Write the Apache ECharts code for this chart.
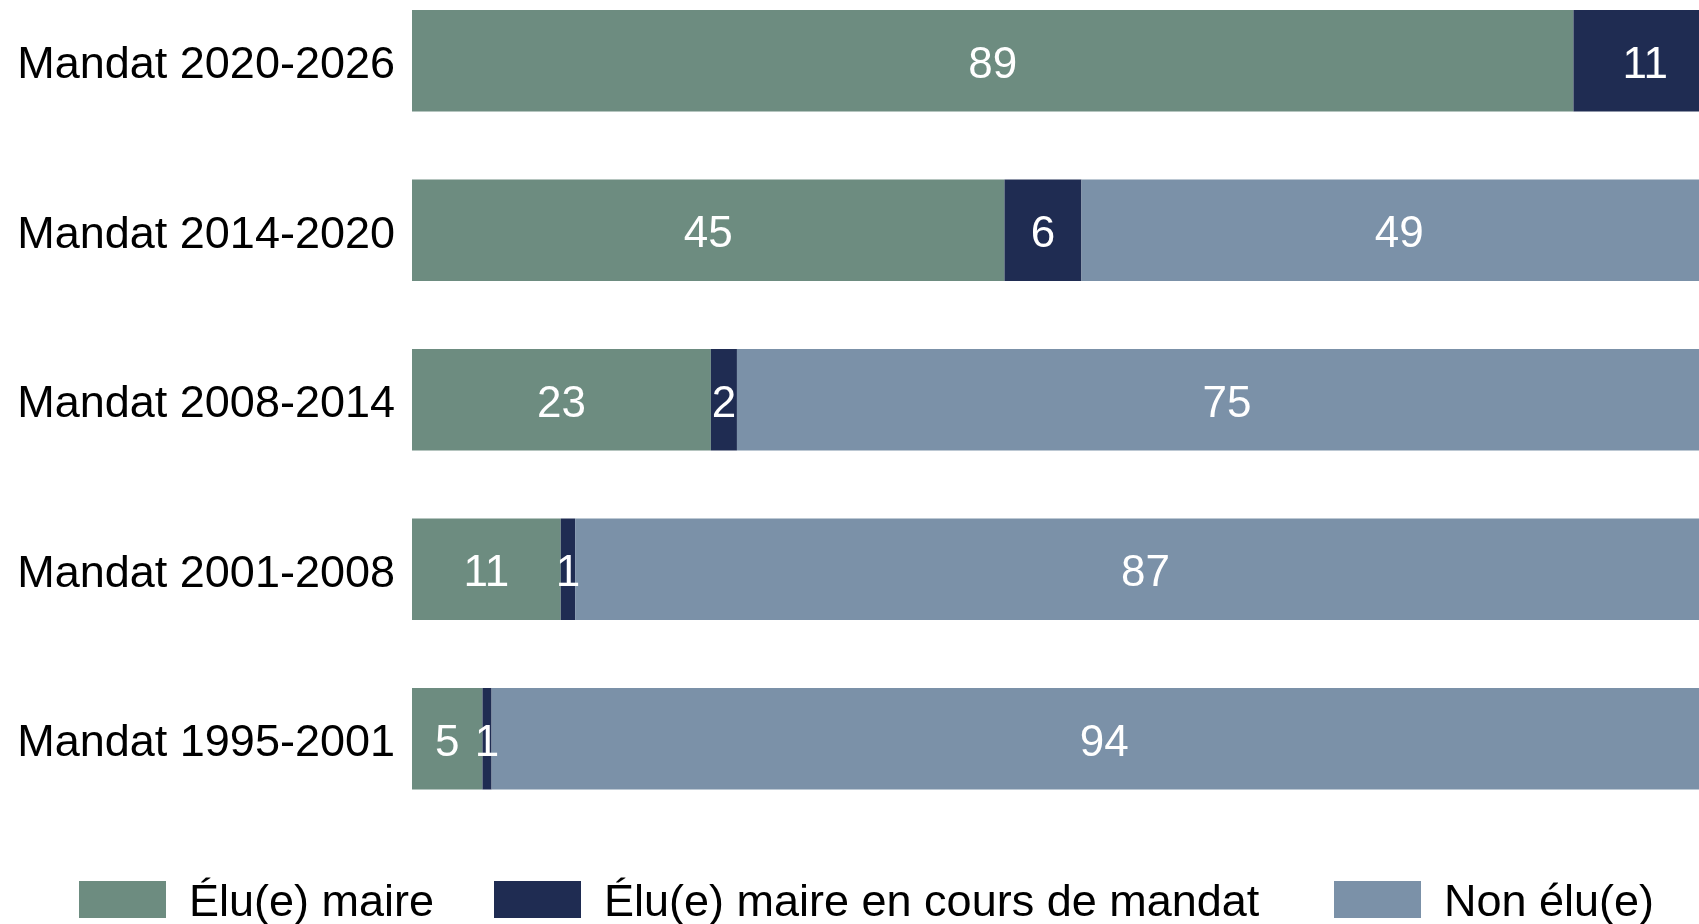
<!DOCTYPE html>
<html>
<head>
<meta charset="utf-8">
<script src="https://cdn.jsdelivr.net/npm/echarts@6/dist/echarts.min.js"></script>
<style>
  html, body { margin: 0; padding: 0; background: #fff; }
  #chart { width: 1699px; height: 924px; }
</style>
</head>
<body>
<div id="chart"></div>
<script>
// mandats, du plus récent (en haut) au plus ancien
// valeurs lues sur les longueurs des barres, étiquettes arrondies
var categories = ["Mandat 2020-2026", "Mandat 2014-2020", "Mandat 2008-2014", "Mandat 2001-2008", "Mandat 1995-2001"];
var eluMaire = [89, 45.4, 22.9, 11.4, 5.4];
var eluEnCours = [11, 5.9, 2.0, 1.1, 0.7];
var nonElu = [0, 48.7, 75.1, 87.4, 93.9];

var FONT = "Liberation Sans, Arial, sans-serif";
var colors = ["#6D8C80", "#1F2C52", "#7B91A8"];

var chart = echarts.init(document.getElementById("chart"));

function mkSeries(name, data, color) {
  return {
    name: name,
    type: "bar",
    stack: "total",
    barWidth: "60%",
    data: data,
    itemStyle: { color: color },
    label: {
      show: true,
      position: "inside",
      offset: [0, 5],
      color: "#fff",
      fontFamily: FONT,
      fontSize: 44,
      formatter: function (p) { return p.value ? Math.round(p.value) : ""; }
    },
    emphasis: { disabled: true }
  };
}

function mkLegend(name, left) {
  return {
    data: [name],
    left: left,
    top: 876,
    itemWidth: 87,
    itemHeight: 37,
    icon: "rect",
    formatter: "{t|{name}}",
    textStyle: {
      fontFamily: FONT, fontSize: 45, color: "#000", padding: [0, 0, 0, 18],
      rich: { t: { fontFamily: FONT, fontSize: 45, color: "#000", padding: [9, 0, 0, 0] } }
    }
  };
}

var option = {
  backgroundColor: "#fff",
  animation: false,
  color: colors,
  legend: [
    mkLegend("Élu(e) maire", 74),
    mkLegend("Élu(e) maire en cours de mandat", 489),
    mkLegend("Non élu(e)", 1329)
  ],
  grid: { left: 412, right: -18, top: -24, height: 847.5, containLabel: false, outerBoundsMode: "none" },
  xAxis: {
    type: "value",
    min: 0,
    max: 100,
    show: false
  },
  yAxis: {
    type: "category",
    inverse: true,
    data: categories,
    axisLine: { show: false },
    axisTick: { show: false },
    axisLabel: { fontFamily: FONT, fontSize: 45, color: "#000", margin: 17, verticalAlign: "top", lineHeight: 10 }
  },
  series: [
    mkSeries("Élu(e) maire", eluMaire, colors[0]),
    mkSeries("Élu(e) maire en cours de mandat", eluEnCours, colors[1]),
    mkSeries("Non élu(e)", nonElu, colors[2])
  ]
};

chart.setOption(option);
</script>
</body>
</html>
